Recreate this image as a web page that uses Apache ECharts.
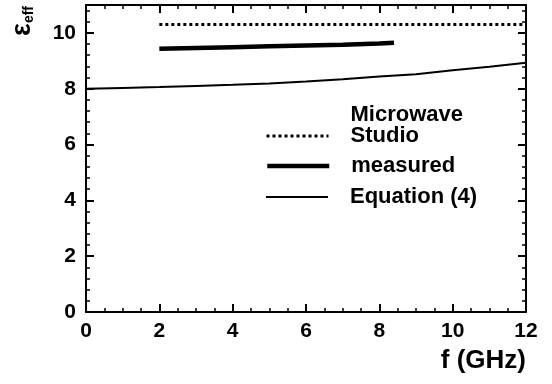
<!DOCTYPE html>
<html>
<head>
<meta charset="utf-8">
<script src="https://cdn.jsdelivr.net/npm/echarts@6/dist/echarts.min.js"></script>
<style>
  html, body { margin: 0; padding: 0; background: #fff; }
  #chart { width: 552px; height: 384px; }
</style>
</head>
<body>
<div id="chart"></div>
<script>
// Datos
const freqMws = [2, 12];
const epsMws = [10.3, 10.3];

const freqMeasured = [2, 3, 4, 5, 6, 7, 8, 8.4];
const epsMeasured = [9.43, 9.46, 9.49, 9.52, 9.55, 9.58, 9.62, 9.65];

const freqEq = [0, 1, 2, 3, 4, 5, 6, 7, 8, 9, 10, 11, 12];
const epsEq = [8.0, 8.03, 8.06, 8.1, 8.14, 8.19, 8.26, 8.34, 8.44, 8.52, 8.66, 8.79, 8.93];

const xTicks = [0, 2, 4, 6, 8, 10, 12];
const yTicks = [0, 2, 4, 6, 8, 10];

const FONT = "'Liberation Sans', Arial, sans-serif";

function pairs(xs, ys) {
  return xs.map((x, i) => [x, ys[i]]);
}

// eje común (abajo/izquierda con etiquetas, arriba/derecha solo marcas)
function axisBase(min, max, interval, minorSplit, showLabels, ticks) {
  return {
    type: "value",
    min: min,
    max: max,
    interval: interval,
    axisLine: { show: true, onZero: false, lineStyle: { color: "#000", width: 2 } },
    axisTick: { show: true, inside: true, length: 8, lineStyle: { color: "#000", width: 2 } },
    minorTick: { show: true, splitNumber: minorSplit, length: 4, lineStyle: { color: "#000", width: 1.5 } },
    splitLine: { show: false },
    axisLabel: {
      show: showLabels,
      color: "#000",
      fontFamily: FONT,
      fontWeight: "bold",
      fontSize: 21,
      margin: 9,
      showMaxLabel: true,
      formatter: function (v) {
        return ticks.indexOf(v) >= 0 ? String(v) : "";
      },
    },
  };
}

const chart = echarts.init(document.getElementById("chart"));

const xBottom = axisBase(0, 12, 2, 4, true, xTicks);
xBottom.position = "bottom";
xBottom.name = "f (GHz)";
xBottom.nameLocation = "end";
xBottom.nameGap = 0;
xBottom.nameMoveOverlap = false;
xBottom.nameTextStyle = {
  color: "#000",
  fontFamily: FONT,
  fontWeight: "bold",
  fontSize: 26,
  align: "right",
  verticalAlign: "top",
  padding: [36, 0, 0, 0],
};

const xTop = axisBase(0, 12, 2, 4, false, xTicks);
xTop.position = "top";

const yLeft = axisBase(0, 11, 2, 5, true, yTicks);
yLeft.position = "left";
yLeft.axisLabel.margin = 10;

const yRight = axisBase(0, 11, 2, 5, false, yTicks);
yRight.position = "right";

const legendText = {
  color: "#000",
  fontFamily: FONT,
  fontWeight: "bold",
  fontSize: 22,
  lineHeight: 21,
  padding: [0, 0, 0, 17],
};

function legendFor(name, top, width, formatter) {
  const lg = {
    data: [name],
    left: 265,
    top: top,
    padding: 0,
    itemWidth: 62,
    itemHeight: 8,
    textStyle: legendText,
    itemStyle: { opacity: 0 },
    lineStyle: { width: width },
    selectedMode: false,
  };
  if (formatter) lg.formatter = formatter;
  return lg;
}

chart.setOption({
  animation: false,
  backgroundColor: "#fff",
  grid: { left: 86, right: 26, top: 5, bottom: 72, outerBoundsMode: "none" },
  xAxis: [xBottom, xTop],
  yAxis: [yLeft, yRight],
  legend: [
    // tercera línea vacía para que la muestra quede junto a "Studio"
    legendFor("Microwave Studio", 104, 3, function () { return "Microwave\nStudio\n\u00a0"; }),
    legendFor("measured", 155, 4.5),
    legendFor("Equation (4)", 186, 2),
  ],
  graphic: [
    {
      type: "text",
      x: 36,
      y: 6,
      rotation: Math.PI / 2,
      style: {
        text: "{e|ε}{s|eff}",
        align: "right",
        verticalAlign: "bottom",
        fill: "#000",
        rich: {
          e: { fontSize: 27, fontWeight: "bold", fontFamily: FONT, fill: "#000" },
          s: { fontSize: 14, fontWeight: "bold", fontFamily: FONT, fill: "#000", verticalAlign: "bottom" },
        },
      },
    },
  ],
  series: [
    {
      name: "Microwave Studio",
      type: "line",
      data: pairs(freqMws, epsMws),
      symbol: "none",
      lineStyle: { color: "#000", width: 3, type: [3, 3] },
      itemStyle: { color: "#000" },
    },
    {
      name: "measured",
      type: "line",
      data: pairs(freqMeasured, epsMeasured),
      symbol: "none",
      lineStyle: { color: "#000", width: 4.5 },
      itemStyle: { color: "#000" },
    },
    {
      name: "Equation (4)",
      type: "line",
      data: pairs(freqEq, epsEq),
      symbol: "none",
      lineStyle: { color: "#000", width: 2 },
      itemStyle: { color: "#000" },
    },
  ],
});
</script>
</body>
</html>
